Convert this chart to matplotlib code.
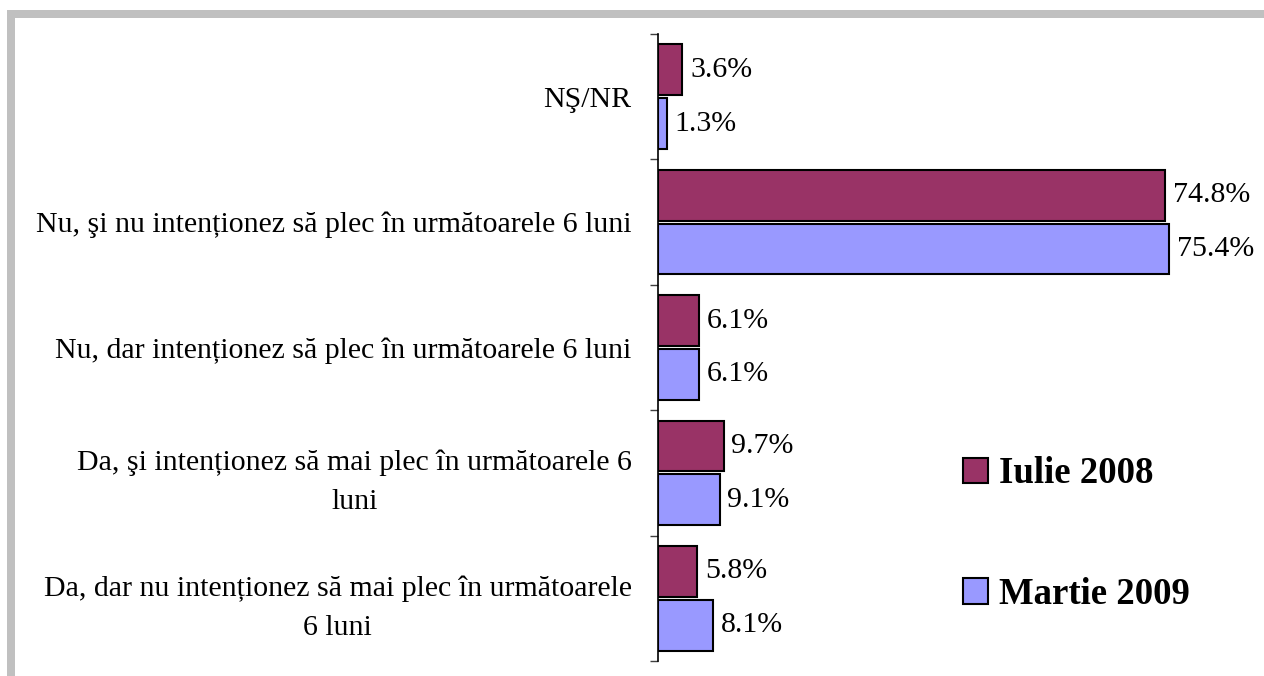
import matplotlib.pyplot as plt
import numpy as np
from matplotlib.patches import Rectangle

plt.rcParams['font.family'] = ['Liberation Serif', 'DejaVu Serif']

categorii = ["NŞ/NR",
             "Nu, şi nu intenționez să plec în următoarele 6 luni",
             "Nu, dar intenționez să plec în următoarele 6 luni",
             "Da, şi intenționez să mai plec în următoarele 6\nluni",
             "Da, dar nu intenționez să mai plec în următoarele\n6 luni"]
iulie_2008 = [3.6, 74.8, 6.1, 9.7, 5.8]
martie_2009 = [1.3, 75.4, 6.1, 9.1, 8.1]
serii = ["Iulie 2008", "Martie 2009"]
culori = ["#993366", "#9999FF"]

W, H = 1264, 676
fig = plt.figure(figsize=(W / 100, H / 100), dpi=100)
ax = fig.add_axes([658 / W, 15 / H, (W - 658) / W, (661 - 34) / H])

y = np.arange(len(categorii))
h = 0.405
b1 = ax.barh(y - 0.215, iulie_2008, height=h, color=culori[0], edgecolor="black", linewidth=1.5, label=serii[0])
b2 = ax.barh(y + 0.215, martie_2009, height=h, color=culori[1], edgecolor="black", linewidth=1.5, label=serii[1])

for bars, vals in ((b1, iulie_2008), (b2, martie_2009)):
    for bar, v in zip(bars, vals):
        ax.annotate(f"{v:.1f}%", (v, bar.get_y() + bar.get_height() / 2),
                    xytext=(5.5, 0), textcoords="offset points",
                    va="center", ha="left", fontsize=21.5)

ax.set_xlim(0, (W - 658) / 6.78)
ax.set_ylim(len(categorii) - 0.5, -0.5)
ax.set_yticks(np.arange(len(categorii) + 1) - 0.5)
ax.set_yticklabels([])
ax.set_yticks(y, minor=True)
ax.set_yticklabels(categorii, minor=True, fontsize=21.5, multialignment="center", linespacing=1.65)
ax.tick_params(axis="y", which="major", length=6, width=1, color="#404040")
ax.tick_params(axis="y", which="minor", length=0, pad=19)
ax.set_xticks([])
for s in ("top", "right", "bottom"):
    ax.spines[s].set_visible(False)
ax.spines["left"].set_linewidth(1.2)

ax.legend(loc="center left", bbox_to_anchor=(963 / W, 1 - 534 / H), bbox_transform=fig.transFigure,
          frameon=False, prop={"size": 26.5, "weight": "bold"}, handlelength=0.68, handleheight=0.68,
          handletextpad=0.3, labelspacing=2.33, borderpad=0, borderaxespad=0)

# rama gri
fig.add_artist(Rectangle((7 / W, 1 - 18 / H), 1 - 7 / W, 8 / H, transform=fig.transFigure,
                         color="#C0C0C0", lw=0))
fig.add_artist(Rectangle((7 / W, 0), 8 / W, 1 - 10 / H, transform=fig.transFigure,
                         color="#C0C0C0", lw=0))

fig.savefig("out.png", dpi=100)
